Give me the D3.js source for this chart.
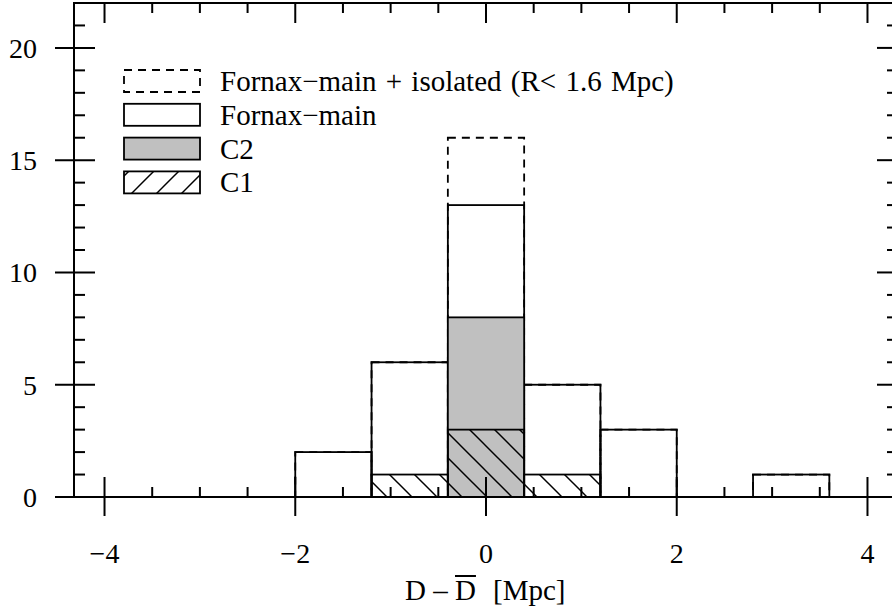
<!DOCTYPE html>
<html>
<head>
<meta charset="utf-8">
<script src="https://cdn.jsdelivr.net/npm/d3@7"></script>
<style>
  html, body { margin: 0; padding: 0; background: #fff; }
  svg { display: block; }
  text { font-family: "Liberation Serif", "Times New Roman", serif; fill: #000; }
</style>
</head>
<body>
<svg id="chart" width="892" height="612"></svg>
<script>
// Histogram bins (lower/upper edges in Mpc)
const binStarts = [-2.0, -1.2, -0.4, 0.4, 1.2, 2.8];
const binWidth = 0.8;
// Counts per bin
const mainPlusIsolated = [2, 6, 16, 5, 3, 1];
const fornaxMain = [2, 6, 13, 5, 3, 1];
const c2Counts = [0, 0, 8, 0, 0, 0];
const c1Counts = [0, 1, 3, 1, 0, 0];

const xTicks = [-4, -2, 0, 2, 4];
const yTicks = [0, 5, 10, 15, 20];
const legendLabels = ["Fornax\u2212main + isolated (R< 1.6 Mpc)", "Fornax\u2212main", "C2", "C1"];

const svg = d3.select("#chart");
const L = 74, R = 898, T = 3, B = 497;
const x = d3.scaleLinear().domain([-4.32, 4.32]).range([L, R]);
const y = d3.scaleLinear().domain([0, 22]).range([B, T]);

const defs = svg.append("defs");
function hatch(id, dir) {
  const p = defs.append("pattern").attr("id", id)
    .attr("patternUnits", "userSpaceOnUse")
    .attr("width", 25).attr("height", 25)
    .attr("x", dir > 0 ? 0 : 448).attr("y", dir > 0 ? 0 : 433);
  const segs = dir > 0
    ? [[0, 25, 25, 0], [-5, 5, 5, -5], [20, 30, 30, 20]]
    : [[0, 0, 25, 25], [-5, 20, 5, 30], [20, -5, 30, 5]];
  segs.forEach(s => p.append("line")
    .attr("x1", s[0]).attr("y1", s[1]).attr("x2", s[2]).attr("y2", s[3])
    .attr("stroke", "#000").attr("stroke-width", 1.5));
}
hatch("hatchBack", -1);
hatch("hatchFwd", 1);

const bins = binStarts.map((s, i) => ({
  x0: s, x1: s + binWidth,
  all: mainPlusIsolated[i], main: fornaxMain[i], c2: c2Counts[i], c1: c1Counts[i]
}));

function bars(key, cls) {
  return svg.append("g").attr("class", cls)
    .selectAll("rect").data(bins.filter(d => d[key] > 0)).join("rect")
    .attr("x", d => x(d.x0)).attr("width", d => x(d.x1) - x(d.x0))
    .attr("y", d => y(d[key])).attr("height", d => y(0) - y(d[key]));
}

// Fornax-main + isolated (dashed outline)
bars("all", "all").attr("fill", "none").attr("stroke", "#000")
  .attr("stroke-width", 1.8).attr("stroke-dasharray", "8,6");
// Fornax-main (solid outline)
bars("main", "main").attr("fill", "none").attr("stroke", "#000").attr("stroke-width", 1.8);
// C2 (grey)
bars("c2", "c2").attr("fill", "#c0c0c0").attr("stroke", "#000").attr("stroke-width", 1.8);
// C1 (hatched)
bars("c1", "c1").attr("fill", "url(#hatchBack)").attr("stroke", "#000").attr("stroke-width", 1.8);

// Frame
svg.append("rect").attr("x", L).attr("y", T).attr("width", R - L).attr("height", B - T)
  .attr("fill", "none").attr("stroke", "#000").attr("stroke-width", 2);

const tickG = svg.append("g").attr("stroke", "#000").attr("stroke-width", 2);
// x ticks: major every 2, minor every 0.5
const xMinor = d3.range(-4, 4.01, 0.5).filter(v => !xTicks.includes(v));
xTicks.forEach(v => {
  tickG.append("line").attr("x1", x(v)).attr("x2", x(v)).attr("y1", B + 19).attr("y2", B - 20);
  tickG.append("line").attr("x1", x(v)).attr("x2", x(v)).attr("y1", T).attr("y2", T + 20);
});
xMinor.forEach(v => {
  tickG.append("line").attr("x1", x(v)).attr("x2", x(v)).attr("y1", B).attr("y2", B - 10);
  tickG.append("line").attr("x1", x(v)).attr("x2", x(v)).attr("y1", T).attr("y2", T + 10);
});
// y ticks: major every 5, minor every 1
const yMinor = d3.range(0, 22.01, 1).filter(v => !yTicks.includes(v));
yTicks.forEach(v => {
  tickG.append("line").attr("x1", L - 19).attr("x2", L + 21).attr("y1", y(v)).attr("y2", y(v));
  tickG.append("line").attr("x1", R).attr("x2", R - 21).attr("y1", y(v)).attr("y2", y(v));
});
yMinor.forEach(v => {
  tickG.append("line").attr("x1", L).attr("x2", L + 11).attr("y1", y(v)).attr("y2", y(v));
  tickG.append("line").attr("x1", R).attr("x2", R - 11).attr("y1", y(v)).attr("y2", y(v));
});

// Tick labels
const fmt = v => (v < 0 ? "\u2212" + Math.abs(v) : String(v));
svg.append("g").selectAll("text").data(xTicks).join("text")
  .attr("x", d => x(d)).attr("y", 563).attr("text-anchor", "middle")
  .attr("font-size", 28).text(fmt);
svg.append("g").selectAll("text").data(yTicks).join("text")
  .attr("x", 37).attr("y", d => y(d) + 10).attr("text-anchor", "end")
  .attr("font-size", 28).text(fmt);

// Axis title: D − D̄ [Mpc]
const title = svg.append("text").attr("y", 600).attr("font-size", 29);
title.append("tspan").attr("x", 405).text("D \u2013");
const dBar = title.append("tspan").attr("x", 455).text("D");
title.append("tspan").attr("x", 493).text("[Mpc]");
const dLen = dBar.node().getComputedTextLength();
svg.append("line").attr("x1", 455).attr("x2", 455 + dLen)
  .attr("y1", 576).attr("y2", 576).attr("stroke", "#000").attr("stroke-width", 2);

// Legend
const legendStyles = [
  { fill: "none", dash: "8,6" },
  { fill: "none", dash: null },
  { fill: "#c0c0c0", dash: null },
  { fill: "url(#hatchFwd)", dash: null }
];
const lg = svg.append("g");
legendLabels.forEach((lab, i) => {
  const top = 70 + i * 33.8;
  lg.append("rect").attr("x", 124).attr("y", top).attr("width", 76).attr("height", 22)
    .attr("fill", legendStyles[i].fill).attr("stroke", "#000").attr("stroke-width", 1.8)
    .attr("stroke-dasharray", legendStyles[i].dash);
  lg.append("text").attr("x", 220).attr("y", top + 21).attr("font-size", 29)
    .attr("word-spacing", 2).text(lab);
});
</script>
</body>
</html>
